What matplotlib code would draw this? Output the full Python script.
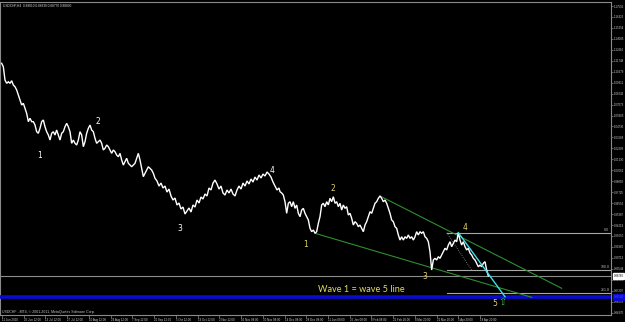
import matplotlib
matplotlib.use('Agg')
import matplotlib.pyplot as plt

# ---------------- data ----------------
symbol_header = "USDCHF,H4  0.88810 0.88830 0.88770 0.88830"
copyright_txt = "USDCHF - MT4, \u00a9 2001-2011, MetaQuotes Software Corp."

# price path (H4 bar index, close)
close_a = [1.1148, 1.1111, 1.0969, 1.0934, 1.0951, 1.0934, 1.0962, 1.0916, 1.0898, 1.0863,
           1.0809, 1.0756, 1.0703, 1.0721, 1.0667, 1.0614, 1.0525, 1.0561, 1.0525, 1.0525,
           1.0489, 1.0418, 1.0401, 1.0454, 1.0525, 1.0543, 1.0471, 1.0418, 1.0383, 1.0329,
           1.0401, 1.0418, 1.0383, 1.0436, 1.0383, 1.0329, 1.0401, 1.0418, 1.0471, 1.0507,
           1.0471, 1.0418, 1.0294, 1.0329, 1.0294, 1.0276, 1.0329, 1.0418, 1.0383, 1.0258,
           1.0311, 1.0401, 1.0454, 1.0489, 1.0436, 1.0418, 1.0347, 1.0294, 1.0311, 1.0329,
           1.0294, 1.0223, 1.0241, 1.0276, 1.0258, 1.0223, 1.0187, 1.0223, 1.0204, 1.0169,
           1.0151, 1.0187, 1.0116, 1.0062, 1.0098, 1.0134, 1.0081, 1.0062, 1.0044, 1.0062,
           1.0081, 1.0134, 1.0187, 1.0116, 1.0027, 0.9938, 0.9974, 1.0009, 1.0044, 1.0027,
           1.0009, 0.9974, 0.9921]
close_b = [0.9892, 0.9838, 0.9870, 0.9817, 0.9838, 0.9774, 0.9806, 0.9732, 0.9689, 0.9710,
           0.9636, 0.9657, 0.9593, 0.9614, 0.9540, 0.9572, 0.9604, 0.9561, 0.9636, 0.9614,
           0.9689, 0.9657, 0.9721, 0.9700, 0.9753, 0.9732, 0.9817, 0.9796, 0.9870, 0.9902,
           0.9860, 0.9806, 0.9838, 0.9764, 0.9742, 0.9796, 0.9764, 0.9806, 0.9753, 0.9732,
           0.9796, 0.9838, 0.9806, 0.9870, 0.9838, 0.9892, 0.9860, 0.9913, 0.9881, 0.9934,
           0.9902, 0.9956, 0.9924, 0.9966, 0.9945, 0.9988, 0.9966, 0.9934, 0.9881, 0.9838,
           0.9796, 0.9817]
close_c = [0.9778, 0.9764, 0.9742, 0.9671, 0.9547, 0.9654, 0.9671, 0.9618, 0.9671, 0.9600,
           0.9636, 0.9547, 0.9511, 0.9582, 0.9600, 0.9547, 0.9511, 0.9476, 0.9387, 0.9351,
           0.9369, 0.9334, 0.9351, 0.9440, 0.9511, 0.9636, 0.9654, 0.9618, 0.9671, 0.9636,
           0.9707, 0.9671, 0.9724, 0.9654, 0.9671, 0.9618, 0.9654, 0.9582, 0.9636, 0.9600,
           0.9618, 0.9529, 0.9547, 0.9494, 0.9422, 0.9458, 0.9440, 0.9404, 0.9422, 0.9387,
           0.9351, 0.9422, 0.9458, 0.9511, 0.9564, 0.9547, 0.9600, 0.9654, 0.9671, 0.9707,
           0.9732, 0.9707, 0.9671, 0.9689, 0.9654, 0.9600, 0.9547, 0.9476, 0.9458, 0.9404,
           0.9387, 0.9316, 0.9262, 0.9297, 0.9262, 0.9297, 0.9280, 0.9316, 0.9280, 0.9297,
           0.9262, 0.9297, 0.9351, 0.9316, 0.9351, 0.9334, 0.9351, 0.9297, 0.9280, 0.9244,
           0.9137, 0.8942, 0.9049, 0.9067, 0.9049, 0.9084, 0.9067, 0.9102, 0.9137, 0.9174,
           0.9156, 0.9209, 0.9244, 0.9191, 0.9227, 0.9262, 0.9244, 0.9340, 0.9262, 0.9209,
           0.9244, 0.9191, 0.9156, 0.9174, 0.9123, 0.9102, 0.9067, 0.9049, 0.9014, 0.8977,
           0.8995, 0.8977, 0.9014, 0.9031, 0.8942, 0.8878]
bars_a = list(range(5, 470, 5))
bars_b = list(range(471, 843, 6))
bars_c = list(range(840, 1466, 5))

# Elliott wave labels
white_wave_labels = ["1", "2", "3", "4"]
white_wave_bar = [120, 294, 540, 816]
white_wave_price = [1.0159, 1.0532, 0.9390, 1.0009]
yellow_wave_labels = ["1", "2", "3", "4", "5"]
yellow_wave_bar = [918, 1000, 1275, 1395, 1485]
yellow_wave_price = [0.9215, 0.9807, 0.8870, 0.9395, 0.8585]

# trend lines (bar, price) pairs
upper_channel = ([1140, 1685], [0.9732, 0.8747])
lower_channel = ([945, 1595], [0.9334, 0.8651])
cyan_line = ([1375, 1515], [0.9340, 0.8657])
fib_diag = ([1340, 1415], [0.9340, 0.8942])

# fibonacci levels
fib_start_bar = 1340
fib_prices = [0.9340, 0.8942, 0.8697]
fib_labels = ["0.0", "100.0", "261.8"]

bid_price = 0.8878
blue_level = 0.8654

# axes
price_ticks = [0.84870 + i * 0.011686 for i in range(29)]
date_labels = ["11 Jun 2010", "25 Jun 12:00", "13 Jul 12:00", "27 Jul 12:00", "10 Aug 12:00",
               "24 Aug 12:00", "7 Sep 12:00", "21 Sep 12:00", "5 Oct 12:00", "19 Oct 12:00",
               "2 Nov 12:00", "16 Nov 08:00", "30 Nov 08:00", "14 Dec 08:00", "28 Dec 08:00",
               "11 Jan 08:00", "25 Jan 08:00", "8 Feb 08:00", "21 Feb 20:00", "8 Mar 20:00",
               "21 Mar 20:00", "5 Apr 20:00", "18 Apr 20:00"]

# ---------------- drawing ----------------
SMALL = 'Liberation Sans'
W, H = 625, 322
fig = plt.figure(figsize=(W / 100, H / 100), dpi=100, facecolor='black')
ax = fig.add_axes([0, 7 / H, 611 / W, 313 / H])
ax.set_facecolor('black')
ax.set_xlim(0, 1833)
ax.set_ylim(0.8462, 1.1802)

for s in ax.spines.values():
    s.set_color('#8a8a8a')
    s.set_linewidth(0.8)

# price path
bars = bars_a + bars_b + bars_c
closes = close_a + close_b + close_c
ax.plot(bars, closes, color='white', lw=1.0, solid_joinstyle='miter', zorder=5)

# horizontal levels
ax.axhline(bid_price, color='#8c8c8c', lw=0.8, zorder=2)
ax.axhline(blue_level, color='#0a0ad2', lw=2.6, zorder=3)
for p, lab in zip(fib_prices, fib_labels):
    ax.plot([fib_start_bar, 1833], [p, p], color='#a8a8a8', lw=0.8, zorder=2)
    ax.text(1828, p + 0.0007, lab, color='#b8b8b8', fontsize=2.6, family=SMALL,
            ha='right', va='bottom')

# trend lines
ax.plot(*upper_channel, color='#2f8f2f', lw=0.8, zorder=4)
ax.plot(*lower_channel, color='#2f8f2f', lw=0.8, zorder=4)
ax.plot(*fib_diag, color='#909090', lw=0.6, ls=(0, (1, 1.5)), zorder=4)
ax.plot(*cyan_line, color='#3fe0e8', lw=1.0, zorder=6)

# wave labels
for t, b, p in zip(white_wave_labels, white_wave_bar, white_wave_price):
    ax.text(b, p, t, color='white', fontsize=5.5, ha='center', va='center')
for t, b, p in zip(yellow_wave_labels, yellow_wave_bar, yellow_wave_price):
    ax.text(b, p, t, color='#e3d46a', fontsize=5.5, ha='center', va='center')
ax.text(1506, 0.8601, "\u21e7", color='#3cc03c', fontsize=7, ha='center', va='center')
ax.text(954, 0.8729, "Wave 1 = wave 5 line", color='#e6dc64', fontsize=6.6,
        family='Lato', ha='left', va='center')

# y axis on right
ax.yaxis.tick_right()
ax.set_yticks(price_ticks)
ax.set_yticklabels([f"{v:.5f}" for v in price_ticks], family=SMALL)
ax.tick_params(axis='y', colors='#8a8a8a', labelcolor='#d0d0d0', labelsize=2.0,
               length=1.5, width=0.5, pad=0.5)

# x axis
label_start, label_step = 6, 65.2
ax.set_xticks([label_start + i * label_step for i in range(len(date_labels))])
ax.set_xticklabels(date_labels, ha='left', family=SMALL)
ax.tick_params(axis='x', colors='#8a8a8a', labelcolor='#d0d0d0', labelsize=2.1,
               length=2, width=0.5, pad=0.5)

# price boxes on the axis
ytr = ax.get_yaxis_transform()
ax.text(1.004, bid_price, f"{bid_price:.5f}", transform=ytr, fontsize=2.0, color='black',
        family=SMALL, ha='left', va='center', clip_on=False, zorder=10,
        bbox=dict(boxstyle='square,pad=0.25', fc='white', ec='white'))
ax.text(1.004, blue_level, f"{blue_level:.5f}", transform=ytr, fontsize=2.0, color='#4a4aff',
        family=SMALL, ha='left', va='center', clip_on=False, zorder=10,
        bbox=dict(boxstyle='square,pad=0.25', fc='#0a0ad2', ec='#0a0ad2'))

# header and copyright
fig.text(3 / W, 1 - 4 / H, symbol_header, color='#d8d8d8', fontsize=2.3, family=SMALL,
         ha='left', va='top')
ax.text(0.004, 0.004, copyright_txt, transform=ax.transAxes, color='#c8c8c8',
        fontsize=2.5, family=SMALL, ha='left', va='bottom')

fig.savefig('out.png', dpi=100, facecolor='black')
